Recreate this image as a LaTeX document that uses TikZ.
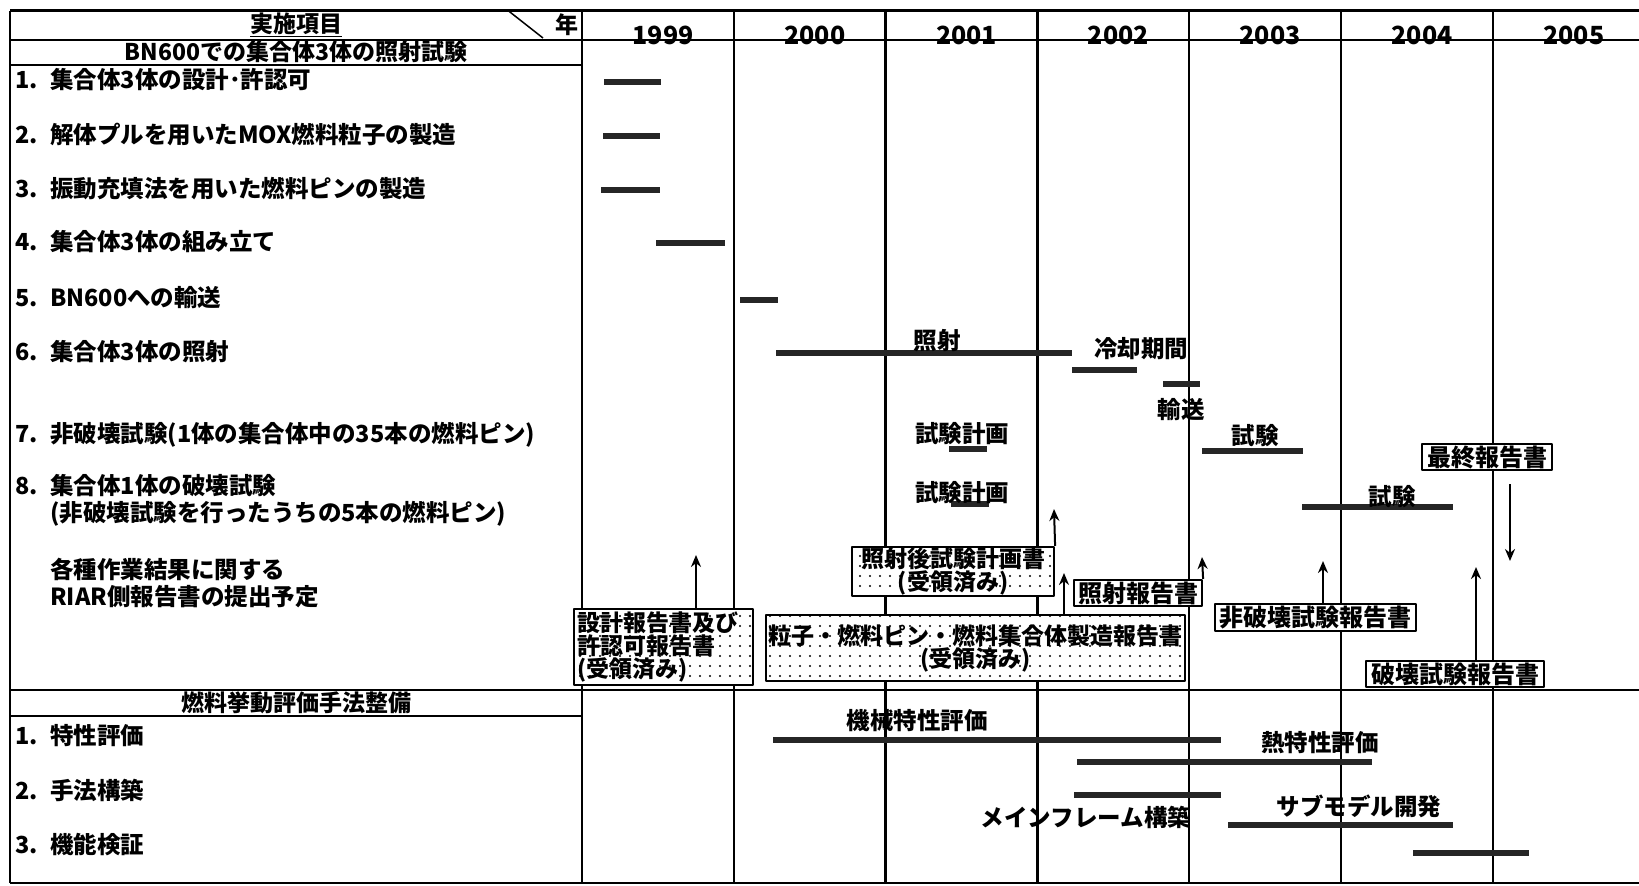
\documentclass[tikz,border=0pt]{standalone}
\usepackage{fontspec}
\newfontfamily\jpfont{Noto Sans CJK JP}
\usepackage{tikz}
\usetikzlibrary{
  arrows.meta,   % 报告书箭头
  patterns.meta, % 稀疏点状填充
  positioning    % 节点相对定位
}

% 报告书方框里的稀疏点
\tikzdeclarepattern{
  name=sparse dots,
  type=uncolored,
  bounding box={(-1.5pt,-1.5pt) and (1.5pt,1.5pt)},
  tile size={(10pt,10pt)},
  code={\pgfpathcircle{\pgfpointorigin}{1.2pt}\pgfusepath{fill}}
}

\tikzset{
  grid line/.style={line width=2.3pt},
  bar line/.style={line width=6pt, color=black!85},
  item text/.style={
    anchor=west, inner sep=0pt,
    font=\jpfont\bfseries\fontsize{23.5}{27}\selectfont
  },
  head text/.style={
    inner sep=1pt,
    font=\jpfont\bfseries\fontsize{23}{25}\selectfont
  },
  year text/.style={
    anchor=base, inner sep=0pt,
    font=\jpfont\bfseries\fontsize{25}{27}\selectfont
  },
  bar label/.style={
    inner sep=0pt,
    font=\jpfont\bfseries\fontsize{23.5}{25}\selectfont
  },
  report box/.style={
    draw, line width=2.2pt, fill=white, inner sep=0pt,
    font=\jpfont\bfseries\fontsize{24}{25}\selectfont
  },
  dotted box/.style={
    draw, line width=2.2pt, preaction={fill=white},
    pattern=sparse dots, pattern color=black, inner sep=3pt,
    font=\jpfont\bfseries\fontsize{23}{23}\selectfont
  },
  report arrow/.style={
    -{Stealth[length=12pt, width=10pt]},
    line width=2pt
  }
}

\begin{document}
\begin{tikzpicture}[x=1pt, y=-1pt, line join=round]
  \useasboundingbox (0,0) rectangle (1639,886);

  % ===================================
  % 表格框线
  % ===================================
  \draw[grid line] (10,10.5) -- (1639,10.5);
  \draw[grid line] (10,40) -- (1639,40);
  \draw[grid line] (10,65) -- (582,65);
  \draw[grid line] (10,690) -- (1639,690);
  \draw[grid line] (10,716) -- (582,716);
  \draw[grid line] (10,883) -- (1639,883);
  \draw[grid line] (10,10.5) -- (10,883);
  % 项目栏右边线与各年份分隔线
  \foreach \k in {0,...,6} {
    \draw[grid line] ({582+151.8*\k},10.5) -- ({582+151.8*\k},883);
  }
  % 表头斜线
  \draw[line width=1.5pt] (508,10.5) -- (543,38);

  % ===================================
  % 表头文字
  % ===================================
  \node[head text] (hdr) at (296,25) {\underline{実施項目}};
  \node[head text] (nen) at (567,25) {年};
  \node[head text] (sec1) at (296,53) {\underline{BN600での集合体3体の照射試験}};
  \node[head text] (sec2) at (296,704) {\underline{燃料挙動評価手法整備}};

  \foreach \yr [count=\k from 0] in {1999,...,2005} {
    \node[year text] (yr\yr) at ({663+151.8*\k},44) {\yr};
  }

  % ===================================
  % 左侧实施项目
  % ===================================
  \foreach \n/\y/\t in {
    1/80/集合体3体の設計･許認可,
    2/135/解体プルを用いたMOX燃料粒子の製造,
    3/189/振動充填法を用いた燃料ピンの製造,
    4/242/集合体3体の組み立て,
    5/298/BN600への輸送,
    6/352/集合体3体の照射,
    7/435/非破壊試験(1体の集合体中の35本の燃料ピン)} {
    \node[item text] (item\n) at (15,\y) {\makebox[35pt][l]{\n.}\t};
  }
  \node[item text, align=left] (item8) at (15,500)
    {\makebox[35pt][l]{8.}集合体1体の破壊試験\\
     \hspace*{35pt}(非破壊試験を行ったうちの5本の燃料ピン)};
  \node[item text, align=left] (plan) at (50,583)
    {各種作業結果に関する\\RIAR側報告書の提出予定};

  \foreach \n/\y/\t in {1/736/特性評価, 2/790/手法構築, 3/845/機能検証} {
    \node[item text] (sub\n) at (15,\y) {\makebox[35pt][l]{\n.}\t};
  }

  % ===================================
  % 工程横条
  % ===================================
  \foreach \xa/\xb/\y in {
    604/661/81.5, 603/660/136, 601/660/190, 656/725/242.5, 740/778/300,
    776/1072/353, 1072/1137/370, 1163/1200/384,
    949/987/449, 1202/1303/451, 951/989/504, 1302/1453/507,
    773/1221/740, 1077/1372/762, 1074/1221/795, 1228/1453/825, 1413/1529/853} {
    \draw[bar line] (\xa,\y) -- (\xb,\y);
  }

  \node[bar label] (irr) at (937,341) {照射};
  \node[bar label] (cool) at (1141,349) {冷却期間};
  \node[bar label] (ship) at (1181,410) {輸送};
  \node[bar label] (plan7) at (962,434) {試験計画};
  \node[bar label] (test7) at (1255,436) {試験};
  \node[bar label] (plan8) at (962,493) {試験計画};
  \node[bar label] (test8) at (1392,497) {試験};
  \node[bar label] (mech) at (917,721) {機械特性評価};
  \node[bar label] (therm) at (1320,743) {熱特性評価};
  \node[bar label] (frame) at (1086,817) {メインフレーム構築};
  \node[bar label] (submod) at (1359,806) {サブモデル開発};

  % ===================================
  % RIAR侧报告书
  % ===================================
  \node[dotted box, text width=173pt, align=left, minimum height=71pt]
    (rpt-design) at (663.5,647) {設計報告書及び\\許認可報告書\\(受領済み)};
  \node[dotted box, minimum width=419pt, minimum height=65.5pt, align=center, inner sep=1pt]
    (rpt-fab) at (975.5,648) {粒子・燃料ピン・燃料集合体製造報告書\\(受領済み)};
  \node[dotted box, minimum width=202pt, minimum height=49pt, align=center, inner sep=0pt,
    font=\jpfont\bfseries\fontsize{23}{21}\selectfont]
    (rpt-pie) at (953,571.5) {照射後試験計画書\\(受領済み)};
  \node[report box, minimum width=128pt, minimum height=26pt]
    (rpt-irr) at (1138,593) {照射報告書};
  \node[report box, minimum width=201pt, minimum height=27pt]
    (rpt-ndt) at (1315.5,617.5) {非破壊試験報告書};
  \node[report box, minimum width=130pt, minimum height=26pt]
    (rpt-final) at (1487,457) {最終報告書};
  \node[report box, minimum width=178pt, minimum height=26pt]
    (rpt-dt) at (1455,674) {破壊試験報告書};

  % 提出时期箭头
  \coordinate (to-design) at (696,555);
  \coordinate (to-pie) at (1054,509);
  \coordinate (to-fab) at (1064,573);
  \coordinate (to-irr) at (1202,557);
  \coordinate (to-ndt) at (1323,561);
  \coordinate (from-final) at (1510,484);
  \coordinate (to-final) at (1510,561);
  \coordinate (to-dt) at (1476,567);

  \draw[report arrow] (rpt-design.north -| to-design) -- (to-design);
  \draw[report arrow] (rpt-pie.north east) -- (to-pie);
  \draw[report arrow] (rpt-fab.north -| to-fab) -- (to-fab);
  \draw[report arrow] (rpt-irr.north east) -- (to-irr);
  \draw[report arrow] (rpt-ndt.north -| to-ndt) -- (to-ndt);
  \draw[report arrow] (from-final) -- (to-final);
  \draw[report arrow] (rpt-dt.north -| to-dt) -- (to-dt);

\end{tikzpicture}
\end{document}
